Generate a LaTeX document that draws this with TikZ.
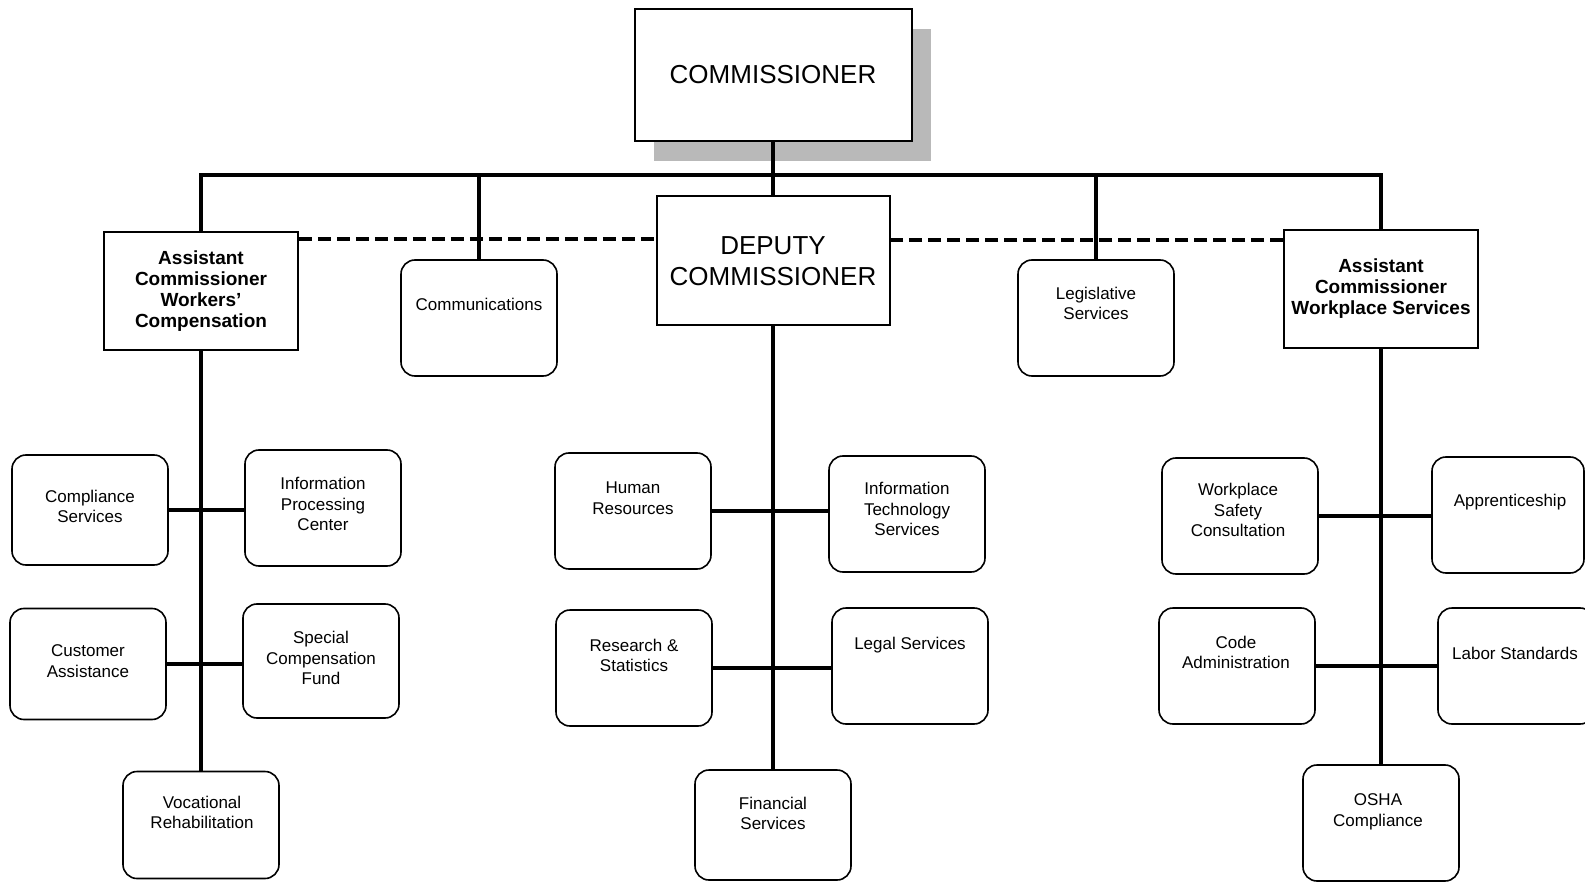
\documentclass[tikz,border=0pt]{standalone}
\usepackage{fontspec}
\setmainfont{Liberation Sans}
\usetikzlibrary{shadows}

\begin{document}
\begin{tikzpicture}[x=0.5pt,y=-0.5pt,
    trunk/.style={line width=2.2pt},
    staffline/.style={line width=1.6pt,dash pattern=on 6.5pt off 3pt},
    headbox/.style={draw,line width=1pt,fill=white,align=center,font=\fontsize{13}{15.2}\selectfont},
    asstbox/.style={draw,line width=0.9pt,fill=white,align=center,minimum width=97pt,minimum height=59pt,inner xsep=1pt,font=\bfseries\fontsize{9.5}{10.5}\selectfont},
    unitbox/.style={draw,line width=0.8pt,rounded corners=7pt,fill=white,minimum width=78pt,minimum height=58pt},
    unittext/.style={align=center,inner sep=0pt,text depth=1.8pt,font=\fontsize{8.5}{10.2}\selectfont}]
\path[use as bounding box,clip] (0,0) rectangle (1585,882);

% Draw the head of the office
\node[headbox,minimum width=138.5pt,minimum height=66pt,
      drop shadow={shadow xshift=9.5pt,shadow yshift=-10pt,fill=gray!55,opacity=1}] (boss) at (773,75) {COMMISSIONER};
\node[headbox,minimum width=116.5pt,minimum height=64.5pt] (deputy) at (773,261) {DEPUTY\\COMMISSIONER};

% Draw the two assistant commissioners and the staff units
\node[asstbox] (wc) at (201,291) {Assistant\\Commissioner\\Workers'\\Compensation};
\node[asstbox] (ws) at (1381,289) {Assistant\\Commissioner\\Workplace Services};
\node[unitbox] (comm) at (479,318) {};
\node[unittext] (comm-t) at (479,306) {Communications};
\node[unitbox] (leg) at (1096,318) {};
\node[unittext] (leg-t) at (1096,305) {Legislative\\Services};

% Workers' compensation units
\node[unitbox,minimum height=55pt] (comp) at (90,510) {};
\node[unittext] (comp-t) at (90,508) {Compliance\\Services};
\node[unitbox] (ipc) at (323,508) {};
\node[unittext] (ipc-t) at (323,506) {Information\\Processing\\Center};
\node[unitbox,minimum height=55.5pt] (cust) at (88,664) {};
\node[unittext] (cust-t) at (88,663) {Customer\\Assistance};
\node[unitbox,minimum height=57pt] (scf) at (321,661) {};
\node[unittext] (scf-t) at (321,660) {Special\\Compensation\\Fund};
\node[unitbox,minimum height=53.5pt] (voc) at (201,825) {};
\node[unittext] (voc-t) at (202,814) {Vocational\\Rehabilitation};

% Units under the deputy
\node[unitbox] (hr) at (633,511) {};
\node[unittext] (hr-t) at (633,500) {Human\\Resources};
\node[unitbox] (its) at (907,514) {};
\node[unittext] (its-t) at (907,511) {Information\\Technology\\Services};
\node[unitbox] (rs) at (634,668) {};
\node[unittext] (rs-t) at (634,657) {Research \&\\Statistics};
\node[unitbox] (legal) at (910,666) {};
\node[unittext] (legal-t) at (910,645) {Legal Services};
\node[unitbox,minimum height=55pt] (fin) at (773,825) {};
\node[unittext] (fin-t) at (773,815) {Financial\\Services};

% Workplace services units
\node[unitbox] (wsc) at (1240,516) {};
\node[unittext] (wsc-t) at (1238,512) {Workplace\\Safety\\Consultation};
\node[unitbox,minimum width=76pt] (appr) at (1508,515) {};
\node[unittext] (appr-t) at (1510,502) {Apprenticeship};
\node[unitbox] (code) at (1237,666) {};
\node[unittext] (code-t) at (1236,654) {Code\\Administration};
\node[unitbox] (labor) at (1516,666) {};
\node[unittext] (labor-t) at (1515,655) {Labor Standards};
\node[unitbox] (osha) at (1381,823) {};
\node[unittext] (osha-t) at (1378,812) {OSHA\\Compliance};

% Draw the top bar
\coordinate (bar) at (773,175);
\draw[trunk] (boss.south) -- (deputy.north);
\draw[trunk] (wc.north) -- (wc.north |- bar) -- (ws.north |- bar) -- (ws.north);
\draw[trunk] (comm.north) -- (comm.north |- bar);
\draw[trunk] (leg.north) -- (leg.north |- bar);

% Dashed staff lines
\draw[staffline] ([yshift=-4pt]wc.north east) -- ([yshift=-4pt]wc.north east -| deputy.west);
\draw[staffline] ([yshift=-5.5pt]ws.north west) -- ([yshift=-5.5pt]ws.north west -| deputy.east);

% Draw the three columns
\draw[trunk] (wc.south) -- (voc.north);
\draw[trunk] (comp.east) -- (comp.east -| ipc.west);
\draw[trunk] (cust.east) -- (cust.east -| scf.west);

\draw[trunk] (deputy.south) -- (fin.north);
\draw[trunk] (hr.east) -- (hr.east -| its.west);
\draw[trunk] (rs.east) -- (rs.east -| legal.west);

\draw[trunk] (ws.south) -- (osha.north);
\draw[trunk] (wsc.east) -- (wsc.east -| appr.west);
\draw[trunk] (code.east) -- (code.east -| labor.west);

\end{tikzpicture}
\end{document}
